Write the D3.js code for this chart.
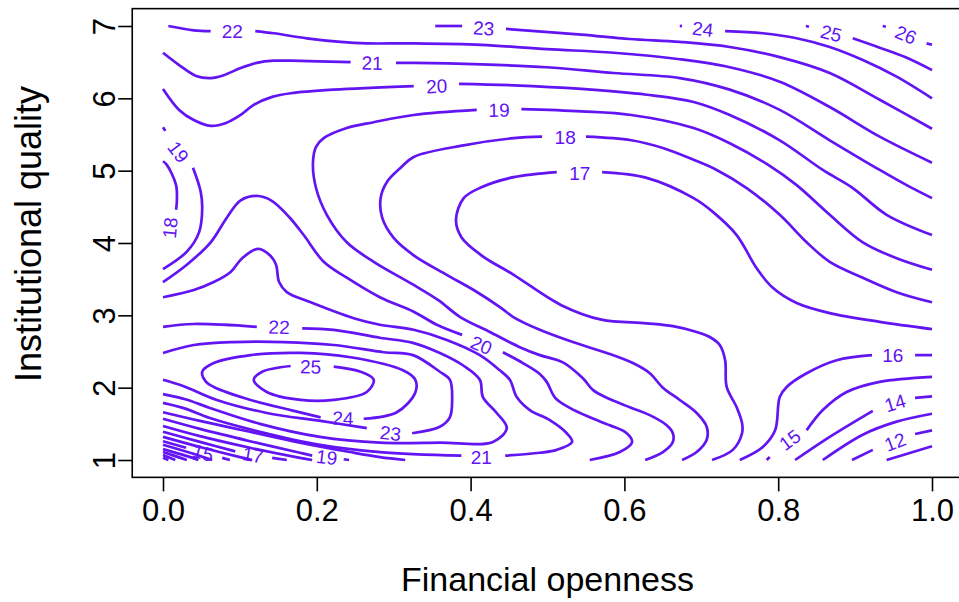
<!DOCTYPE html>
<html><head><meta charset="utf-8">
<script src="https://cdn.jsdelivr.net/npm/d3@7"></script>
<style>body{margin:0;background:#fff}</style>
</head><body>
<svg id="chart" width="959" height="602"></svg>
<script>
// Axis ticks
const xTicks = [0, 0.2, 0.4, 0.6, 0.8, 1.0];
const yTicks = [1, 2, 3, 4, 5, 6, 7];

// Contour pieces per level: [financial openness, institutional quality]
const lines26 = [[[.936,7],[.940,6.99]], [[.993,6.76],[1,6.74]]];
const lines25 = [
  [[.836,7],[.840,6.99]],
  [[.897,6.83],[.932,6.70],[.965,6.57],[1,6.39]],
  [[.222,2.29],[.257,2.22],[.274,2.11],[.265,1.94],[.222,1.83],[.179,1.83],[.135,1.94],[.118,2.11],[.129,2.22],[.166,2.30]]
];
const lines24 = [
  [[.672,7],[.675,7]],
  [[.731,6.93],[.780,6.90],[.824,6.83],[.867,6.71],[.910,6.53],[.954,6.30],[1,6.0]],
  [[.261,1.57],[.304,1.66],[.328,1.93],[.328,2.11],[.312,2.24],[.244,2.42],[.179,2.48],[.114,2.45],[.066,2.34],[.051,2.22],[.056,2.08],[.066,2.01],[.114,1.83],[.166,1.69],[.205,1.59]]
];
const lines23 = [
  [[.354,7],[.389,7]],
  [[.446,6.96],[.544,6.88],[.607,6.82],[.672,6.78],[.737,6.71],[.802,6.57],[.867,6.35],[.932,5.98],[1,5.58]],
  [[0,2.48],[.040,2.59],[.092,2.63],[.157,2.63],[.222,2.59],[.287,2.49],[.325,2.45],[.360,2.22],[.373,2.11],[.376,1.83],[.373,1.59],[.360,1.46],[.324,1.37]],
  [[.265,1.44],[.205,1.54],[.135,1.65],[.070,1.83],[.027,2.02],[0,2.11]]
];
const lines22 = [
  [[.007,7],[.040,6.94],[.062,6.93]],
  [[.120,6.93],[.144,6.90],[.187,6.83],[.231,6.78],[.265,6.76],[.326,6.76],[.414,6.74],[.499,6.68],[.586,6.63],[.672,6.54],[.737,6.43],[.802,6.23],[.867,5.88],[.932,5.47],[1,5.11]],
  [[0,2.84],[.040,2.88],[.122,2.84]],
  [[.181,2.82],[.222,2.80],[.282,2.69],[.325,2.62],[.360,2.48],[.390,2.31],[.412,2.11],[.416,1.87],[.434,1.65],[.447,1.44],[.429,1.25],[.360,1.24],[.282,1.24],[.204,1.32],[.126,1.50],[.061,1.72],[.029,1.84],[0,1.91]]
];
const lines21 = [
  [[0,6.63],[.021,6.46],[.043,6.31],[.062,6.28],[.079,6.32],[.101,6.42],[.122,6.49],[.144,6.52],[.166,6.52],[.244,6.50]],
  [[.303,6.49],[.326,6.49],[.414,6.47],[.499,6.43],[.586,6.35],[.672,6.28],[.737,6.12],[.802,5.84],[.867,5.42],[.932,5.01],[.967,4.80],[1,4.62]],
  [[0,3.25],[.040,3.35],[.066,3.46],[.088,3.60],[.103,3.79],[.124,3.92],[.140,3.82],[.147,3.70],[.151,3.46],[.161,3.32],[.192,3.18],[.248,2.96],[.282,2.87],[.326,2.80],[.369,2.66],[.412,2.45],[.438,2.24],[.451,2.11],[.460,1.87],[.477,1.69],[.503,1.55],[.525,1.37],[.532,1.25],[.512,1.14],[.490,1.10],[.445,1.06]],
  [[.388,1.06],[.282,1.11],[.204,1.21],[.126,1.39],[.061,1.58],[.029,1.71],[0,1.79]]
];
const lines20 = [
  [[0,6.13],[.021,5.84],[.040,5.70],[.062,5.62],[.082,5.66],[.101,5.77],[.118,5.91],[.142,6.02],[.166,6.07],[.222,6.12],[.326,6.17]],
  [[.385,6.20],[.456,6.18],[.544,6.13],[.629,6.05],[.690,5.95],[.737,5.77],[.802,5.42],[.858,5.01],[.897,4.76],[.941,4.39],[1,4.11]],
  [[0,3.46],[.031,3.70],[.062,4.01],[.083,4.35],[.101,4.59],[.124,4.65],[.142,4.58],[.164,4.36],[.183,4.11],[.209,3.74],[.239,3.52],[.282,3.25],[.326,3.05],[.356,2.87],[.389,2.73]],
  [[.442,2.49],[.468,2.34],[.490,2.19],[.499,2.08],[.510,1.86],[.529,1.72],[.555,1.59],[.581,1.48],[.603,1.37],[.610,1.25],[.594,1.11],[.555,1.0]],
  [[0,1.66],[.048,1.54],[.113,1.39],[.178,1.24],[.243,1.11],[.282,1.04],[.315,1.0]]
];
const lines19 = [
  [[0,5.60],[.003,5.55]],
  [[.039,5.04],[.049,4.71],[.051,4.48],[.047,4.15],[.031,3.88],[0,3.64]],
  [[1,3.63],[.954,3.79],[.910,4.01],[.867,4.39],[.824,4.80],[.787,5.08],[.737,5.38],[.690,5.59],[.609,5.77],[.544,5.82],[.466,5.85]],
  [[.408,5.84],[.326,5.77],[.274,5.67],[.239,5.59],[.209,5.45],[.199,5.33],[.195,5.11],[.199,4.76],[.213,4.39],[.239,4.01],[.274,3.74],[.326,3.42],[.358,3.21],[.386,2.98],[.425,2.77],[.464,2.56],[.490,2.45],[.520,2.35],[.546,2.13],[.559,1.97],[.577,1.86],[.607,1.73],[.633,1.62],[.655,1.48],[.663,1.37],[.663,1.25],[.650,1.11],[.627,1.0]],
  [[0,1.57],[.048,1.43],[.113,1.26],[.178,1.10],[.194,1.06]],
  [[.235,1.01],[.242,1.0]]
];
const lines18 = [
  [[0,5.13],[.005,5.08],[.017,4.80],[.018,4.57],[.017,4.46]],
  [[1,3.18],[.954,3.32],[.910,3.52],[.867,3.74],[.837,4.01],[.802,4.39],[.759,4.76],[.720,5.01],[.690,5.15],[.651,5.31],[.609,5.42],[.550,5.47]],
  [[.493,5.47],[.456,5.45],[.391,5.35],[.326,5.19],[.309,5.04],[.291,4.84],[.283,4.62],[.285,4.35],[.300,4.07],[.326,3.83],[.369,3.56],[.404,3.35],[.440,3.10],[.455,2.98],[.490,2.80],[.533,2.63],[.577,2.48],[.611,2.34],[.633,2.20],[.650,2.00],[.672,1.83],[.694,1.65],[.707,1.46],[.707,1.28],[.694,1.11],[.675,1.0]],
  [[0,1.47],[.048,1.33],[.113,1.17],[.178,1.03],[.194,1.0]]
];
const lines17 = [
  [[1,2.81],[.932,2.91],[.867,3.03],[.824,3.17],[.793,3.38],[.772,3.65],[.746,4.11],[.715,4.43],[.690,4.62],[.629,4.90],[.571,4.98]],
  [[.512,4.98],[.456,4.91],[.414,4.77],[.391,4.62],[.381,4.32],[.388,4.08],[.414,3.83],[.456,3.56],[.518,3.14],[.570,2.94],[.629,2.89],[.663,2.85],[.694,2.77],[.711,2.70],[.724,2.59],[.731,2.38],[.733,2.01],[.746,1.73],[.753,1.51],[.753,1.37],[.741,1.14],[.714,1.0]],
  [[0,1.39],[.048,1.25],[.094,1.12]],
  [[.142,1.03],[.161,1.0]]
];
const lines16 = [
  [[.750,1.0],[.780,1.18],[.796,1.41],[.802,1.87],[.811,2.01],[.837,2.20],[.876,2.38],[.922,2.45]],
  [[.978,2.45],[1,2.45]],
  [[0,1.32],[.048,1.18],[.100,1.04],[.116,1.0]]
];
const lines15 = [
  [[.785,1.0],[.789,1.04]],
  [[.837,1.41],[.858,1.69],[.889,1.94],[.932,2.08],[1,2.15]],
  [[0,1.26],[.030,1.17]],
  [[.077,1.03],[.087,1.0]]
];
const lines14 = [
  [[.822,1.0],[.867,1.32],[.923,1.68]],
  [[.978,1.86],[1,1.88]],
  [[0,1.21],[.035,1.10],[.064,1.0]]
];
const lines13 = [
  [[.858,1.0],[.910,1.35],[.954,1.53],[1,1.64]],
  [[0,1.15],[.029,1.06],[.046,1.0]]
];
const lines12 = [
  [[.896,1.0],[.923,1.14]],
  [[.978,1.36],[1,1.41]],
  [[0,1.11],[.020,1.04],[.031,1.0]]
];
const lines11 = [
  [[.941,1.0],[1,1.19]],
  [[0,1.07],[.016,1.0]]
];
const lines10 = [
  [[0,1.03],[.007,1.0]]
];

// Contour labels: [level, x, y]
const contourLabels = [
  [26,.966,6.88],[25,.869,6.90],[24,.702,6.96],[23,.417,6.97],[22,.090,6.93],
  [21,.272,6.49],[20,.356,6.17],[19,.437,5.84],[18,.523,5.47],[17,.542,4.97],
  [19,.020,5.26],[18,.009,4.21],[22,.151,2.84],[25,.192,2.29],[20,.414,2.59],
  [24,.234,1.58],[23,.296,1.37],[21,.414,1.04],[19,.213,1.04],[17,.117,1.07],
  [15,.052,1.10],[16,.949,2.45],[15,.815,1.28],[14,.952,1.79],[12,.952,1.25]
];

const levelSets = [
  [26, lines26],[25, lines25],[24, lines24],[23, lines23],[22, lines22],[21, lines21],
  [20, lines20],[19, lines19],[18, lines18],[17, lines17],[16, lines16],[15, lines15],
  [14, lines14],[13, lines13],[12, lines12],[11, lines11],[10, lines10]
];

const lineColor = "#6214F2";
const fontFamily = "Liberation Sans, Arial, sans-serif";
const svg = d3.select("#chart");
const x = d3.scaleLinear().domain([0, 1]).range([163, 932]);
const y = d3.scaleLinear().domain([1, 7]).range([460, 26]);

// Plot frame (data range padded by 4%)
svg.append("rect")
  .attr("x", x(-0.04)).attr("y", y(7.24))
  .attr("width", x(1.04) - x(-0.04)).attr("height", y(0.76) - y(7.24))
  .attr("fill", "none").attr("stroke", "#000").attr("stroke-width", 1.6);

const line = d3.line().x(d => x(d[0])).y(d => y(d[1])).curve(d3.curveCatmullRom.alpha(0.5));
const gLines = svg.append("g");
levelSets.forEach(([lev, pieces]) => {
  gLines.selectAll(null).data(pieces).enter().append("path")
    .attr("d", line)
    .attr("fill", "none")
    .attr("stroke", lineColor)
    .attr("stroke-width", 2.7)
    .attr("stroke-linejoin", "round")
    .attr("stroke-linecap", "butt");
});

// Label orientation follows the broken contour around it
const byLevel = new Map(levelSets.map(([lev, pieces]) => [lev, pieces.map(p => p.map(d => [x(d[0]), y(d[1])]))]));
function labelAngle(lev, lx, ly) {
  const pieces = byLevel.get(lev);
  const ends = [];
  pieces.forEach((p, i) => {
    ends.push({pt: p[0], nb: p[1], piece: i});
    ends.push({pt: p[p.length - 1], nb: p[p.length - 2], piece: i});
  });
  const dist = e => Math.hypot(e.pt[0] - lx, e.pt[1] - ly);
  ends.sort((a, b) => dist(a) - dist(b));
  const a = ends[0];
  const b = ends.find(e => e !== a && !(e.piece === a.piece && pieces[a.piece].length === 2));
  let dx, dy;
  if (b && dist(b) < 45) { dx = b.pt[0] - a.pt[0]; dy = b.pt[1] - a.pt[1]; }
  else { dx = a.pt[0] - a.nb[0]; dy = a.pt[1] - a.nb[1]; }
  let ang = Math.atan2(dy, dx) * 180 / Math.PI;
  if (ang > 90) ang -= 180;
  if (ang <= -90) ang += 180;
  return ang;
}
svg.append("g").selectAll("text").data(contourLabels).enter().append("text")
  .attr("transform", d => `translate(${x(d[1])},${y(d[2])}) rotate(${labelAngle(d[0], x(d[1]), y(d[2]))})`)
  .attr("text-anchor", "middle")
  .attr("dy", "0.36em")
  .attr("font-family", fontFamily)
  .attr("font-size", 19)
  .attr("fill", lineColor)
  .text(d => d[0]);

// Axes
const xAxis = svg.append("g").attr("transform", `translate(0,${y(0.76)})`)
  .call(d3.axisBottom(x).tickValues(xTicks).tickFormat(d3.format(".1f")).tickSize(14).tickSizeOuter(0).tickPadding(8));
const yAxis = svg.append("g").attr("transform", `translate(${x(-0.04)},0)`)
  .call(d3.axisLeft(y).tickValues(yTicks).tickFormat(d3.format("d")).tickSize(14).tickSizeOuter(0));
[xAxis, yAxis].forEach(g => {
  g.select(".domain").remove();
  g.selectAll(".tick line").attr("stroke", "#000").attr("stroke-width", 1.6);
  g.selectAll(".tick text").attr("fill", "#000").attr("font-family", fontFamily).attr("font-size", 31);
});
yAxis.selectAll(".tick text")
  .attr("transform", "rotate(-90)")
  .attr("x", 0).attr("y", -17)
  .attr("dy", 0)
  .attr("text-anchor", "middle");

svg.append("text")
  .attr("x", (x(0) + x(1)) / 2).attr("y", 591)
  .attr("text-anchor", "middle")
  .attr("font-family", fontFamily).attr("font-size", 34)
  .text("Financial openness");
svg.append("text")
  .attr("transform", `translate(41,234) rotate(-90)`)
  .attr("text-anchor", "middle")
  .attr("font-family", fontFamily).attr("font-size", 36)
  .text("Institutional quality");
</script>
</body></html>
